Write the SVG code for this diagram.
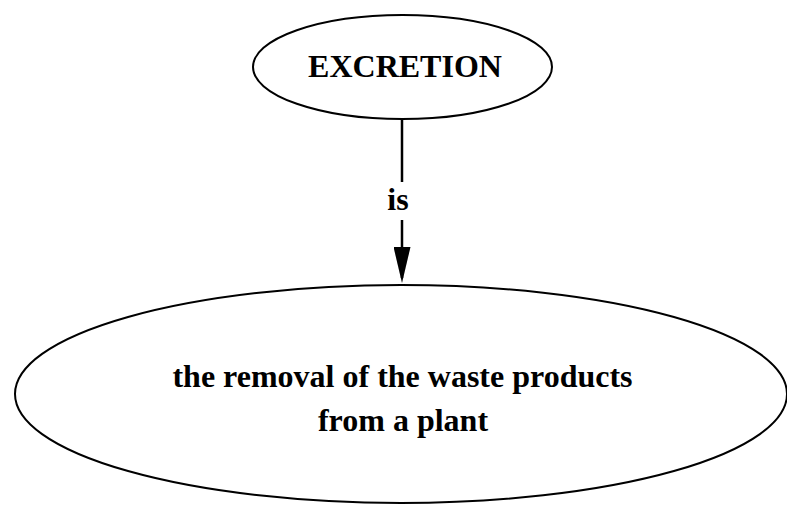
<svg xmlns="http://www.w3.org/2000/svg" width="787" height="506" viewBox="0 0 787 506">
  <style>
    .node { fill: #ffffff; stroke: #000000; stroke-width: 2; }
    .label { font-family: "Liberation Serif", "Times New Roman", serif; font-weight: bold; font-size: 32px; fill: #000000; text-anchor: middle; }
    .edge { stroke: #000000; stroke-width: 2.5; fill: none; }
  </style>
  <defs>
    <!-- solid triangular arrowhead, tip 5px beyond the line end -->
    <marker id="arrow" viewBox="0 0 36 17" markerWidth="36" markerHeight="17" refX="31" refY="8.5" orient="auto" markerUnits="userSpaceOnUse">
      <path d="M0,0 L36,8.5 L0,17 Z" fill="#000000"/>
    </marker>
  </defs>
  <rect width="787" height="506" fill="#ffffff"/>
  <g id="connectors">
    <line class="edge" x1="402" y1="120" x2="402" y2="182"/>
    <line class="edge" x1="402" y1="220" x2="402" y2="278" marker-end="url(#arrow)"/>
    <text class="label" x="398" y="210">is</text>
  </g>
  <g id="excretion">
    <ellipse class="node" cx="402.5" cy="67" rx="149.5" ry="52"/>
    <text class="label" x="405" y="77">EXCRETION</text>
  </g>
  <g id="definition">
    <ellipse class="node" cx="401" cy="394" rx="386" ry="109"/>
    <text class="label" x="402.5" y="387">the removal of the waste products</text>
    <text class="label" x="403" y="431">from a plant</text>
  </g>
</svg>
